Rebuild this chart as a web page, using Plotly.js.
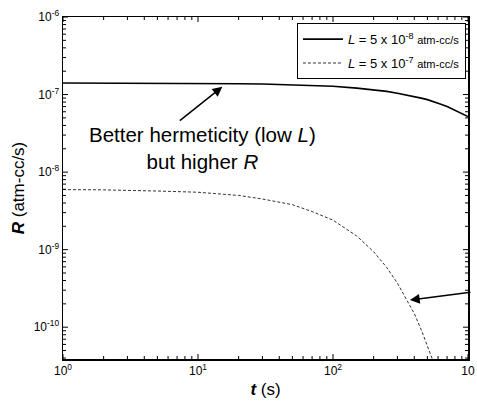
<!DOCTYPE html>
<html>
<head>
<meta charset="utf-8">
<script src="https://cdn.plot.ly/plotly-3.0.1.min.js"></script>
<style>html,body{margin:0;padding:0;background:#fff;}#chart{width:477px;height:405px;}</style>
</head>
<body>
<div id="chart"></div>
<script>
// time (s)
var tValues = [1, 2, 5, 10, 20, 30, 50, 70, 100, 150, 200, 250, 300, 350, 400, 450, 500, 550, 600, 700, 800, 900, 1000];
// R for L = 5e-8 atm-cc/s
var rLow = [1.41e-7, 1.41e-7, 1.40e-7, 1.40e-7, 1.38e-7, 1.37e-7, 1.34e-7, 1.31e-7, 1.28e-7, 1.21e-7, 1.15e-7, 1.10e-7, 1.04e-7, 0.99e-7, 0.95e-7, 0.90e-7, 0.86e-7, 0.82e-7, 0.77e-7, 0.70e-7, 0.63e-7, 0.57e-7, 0.52e-7];
// R for L = 5e-7 atm-cc/s
var tHigh = [1, 2, 5, 10, 20, 30, 50, 70, 100, 150, 200, 250, 300, 350, 400, 450, 500, 550, 600];
var rHigh = [5.95e-9, 5.9e-9, 5.7e-9, 5.5e-9, 5.0e-9, 4.5e-9, 3.8e-9, 3.1e-9, 2.4e-9, 1.5e-9, 9.4e-10, 5.9e-10, 3.7e-10, 2.3e-10, 1.5e-10, 9.3e-11, 5.8e-11, 3.7e-11, 2.3e-11];

var xTickVals = [1, 10, 100, 1000];
var xTickText = ['10<sup>0</sup>', '10<sup>1</sup>', '10<sup>2</sup>', '10'];
var yTickVals = [1e-6, 1e-7, 1e-8, 1e-9, 1e-10];
var yTickText = ['10<sup>-6</sup>', '10<sup>-7</sup>', '10<sup>-8</sup>', '10<sup>-9</sup>', '10<sup>-10</sup>'];

var legendNames = [
  '<i>L</i> = 5 x 10<sup>-8</sup> <span style="font-size:11px">atm-cc/s</span>',
  '<i>L</i> = 5 x 10<sup>-7</sup> <span style="font-size:11px">atm-cc/s</span>'
];

var X_RANGE = [0, 3], Y_RANGE = [-10.41, -6];
var PLOT_W = 477 - 63 - 9, PLOT_H = 405 - 17 - 46;

// minor tick positions (2..9 within each decade)
function minorTicks(lo, hi) {
  var out = [];
  for (var e = lo; e < hi; e++) for (var m = 2; m <= 9; m++) out.push(m * Math.pow(10, e));
  return out;
}

// inside tick marks on all four sides, drawn as a line trace through the log axes
function tickTrace() {
  var xs = [], ys = [];
  var dx = X_RANGE[1] - X_RANGE[0], dy = Y_RANGE[1] - Y_RANGE[0];
  function xt(v, len) {
    var lx = Math.log10(v);
    if (lx < X_RANGE[0] - 1e-9 || lx > X_RANGE[1] + 1e-9) return;
    var d = len / PLOT_H * dy;
    xs.push(v, v, null, v, v, null);
    ys.push(Math.pow(10, Y_RANGE[0]), Math.pow(10, Y_RANGE[0] + d), null,
            Math.pow(10, Y_RANGE[1]), Math.pow(10, Y_RANGE[1] - d), null);
  }
  function yt(v, len) {
    var ly = Math.log10(v);
    if (ly < Y_RANGE[0] - 1e-9 || ly > Y_RANGE[1] + 1e-9) return;
    var d = len / PLOT_W * dx;
    xs.push(Math.pow(10, X_RANGE[0]), Math.pow(10, X_RANGE[0] + d), null,
            Math.pow(10, X_RANGE[1]), Math.pow(10, X_RANGE[1] - d), null);
    ys.push(v, v, null, v, v, null);
  }
  xTickVals.forEach(function (v) { xt(v, 5); });
  minorTicks(0, 3).forEach(function (v) { xt(v, 3); });
  yTickVals.forEach(function (v) { yt(v, 5); });
  minorTicks(-11, -6).forEach(function (v) { yt(v, 3); });
  return {x: xs, y: ys, type: 'scatter', mode: 'lines', showlegend: false, hoverinfo: 'skip',
          line: {color: '#000', width: 1}, connectgaps: false};
}

var traces = [
  {x: tValues, y: rLow, type: 'scatter', mode: 'lines', name: legendNames[0], legendgroup: 'a',
   line: {color: '#000', width: 1.6}},
  {x: tHigh, y: rHigh, type: 'scatter', mode: 'lines', name: legendNames[1], legendgroup: 'b',
   line: {color: '#333', width: 1, dash: '3px,2px'}},
  tickTrace()
];

var FONT = 'Liberation Sans, Arial, sans-serif';

var layout = {
  width: 477, height: 405,
  margin: {l: 63, r: 9, t: 17, b: 46},
  paper_bgcolor: '#fff', plot_bgcolor: '#fff',
  font: {family: FONT, color: '#000', size: 12},
  showlegend: true,
  legend: {x: 0.995, y: 0.982, xanchor: 'right', yanchor: 'top',
           bordercolor: '#000', borderwidth: 1, bgcolor: '#fff',
           font: {family: FONT, size: 13}, tracegroupgap: 4, itemwidth: 40, traceorder: 'grouped'},
  xaxis: {type: 'log', range: X_RANGE, tickvals: xTickVals, ticktext: xTickText,
          ticks: '', showline: true, linecolor: '#000',
          linewidth: 1.5, mirror: true, showgrid: false, zeroline: false,
          tickfont: {size: 12},
          title: {text: '<b><i>t</i></b> (s)', font: {size: 17}, standoff: 6}},
  yaxis: {type: 'log', range: Y_RANGE, tickvals: yTickVals, ticktext: yTickText,
          ticks: '', showline: true, linecolor: '#000',
          linewidth: 1.5, mirror: true, showgrid: false, zeroline: false,
          tickfont: {size: 12},
          title: {text: '<b><i>R</i></b> (atm-cc/s)', font: {size: 17}, standoff: 4}},
  annotations: [
    {x: 1.18, y: -6.90, xref: 'x', yref: 'y', ax: -44, ay: 35, axref: 'pixel', ayref: 'pixel',
     showarrow: true, arrowhead: 2, arrowsize: 1.3, arrowwidth: 1.5, arrowcolor: '#000', text: ''},
    {x: 2.57, y: -9.65, xref: 'x', yref: 'y', ax: 62, ay: -8, axref: 'pixel', ayref: 'pixel',
     showarrow: true, arrowhead: 2, arrowsize: 1.3, arrowwidth: 1.5, arrowcolor: '#000', text: ''},
    {x: (202 - 63) / 405, y: 1 - (148 - 17) / 342, xref: 'paper', yref: 'paper', showarrow: false,
     text: 'Better hermeticity (low <i>L</i>)<br>but higher <i>R</i>', align: 'center',
     font: {family: FONT, size: 20.5, color: '#000'}}
  ]
};

Plotly.newPlot('chart', traces, layout, {displayModeBar: false, staticPlot: true});
</script>
</body>
</html>
